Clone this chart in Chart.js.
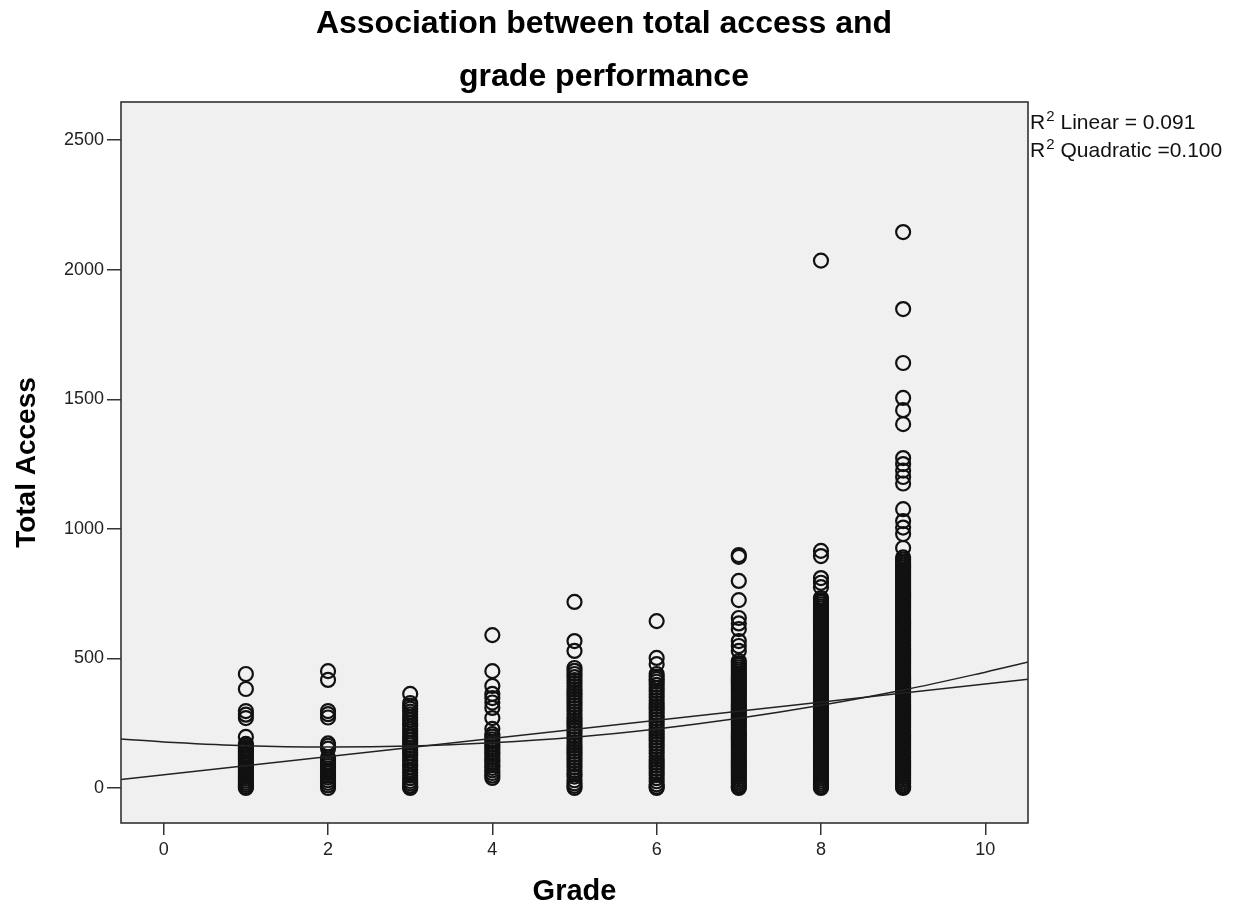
<!DOCTYPE html>
<html>
<head>
<meta charset="utf-8">
<script src="https://cdn.jsdelivr.net/npm/chart.js@4"></script>
<style>
  html, body { margin: 0; background: #fff; }
  #wrap { width: 1239px; height: 909px; }
</style>
</head>
<body>
<div id="wrap"><canvas id="chart" width="1239" height="909"></canvas></div>
<script>
const FONT = '"Liberation Sans", Arial, sans-serif';

const titleLines = ['Association between total access and', 'grade performance'];
const xTicks = [0, 2, 4, 6, 8, 10];
const yTicks = [0, 500, 1000, 1500, 2000, 2500];
const fitLabels = ['Linear = 0.091', 'Quadratic =0.100'];

// total access values read per grade column
const grades = [1, 2, 3, 4, 5, 6, 7, 8, 9];
const grade1 = [440, 382, 297, 283, 270, 197, 170, 163, 155, 148, 140, 132, 125, 117, 110, 102, 95, 88, 80, 73, 66, 58, 50, 43, 36, 28, 20, 12, 5, 0];
const grade2 = [451, 417, 297, 285, 272, 172, 163, 152, 118, 110, 101, 93, 85, 76, 68, 58, 48, 40, 30, 20, 10, 0];
const grade3 = [363, 328, 318, 306, 295, 284, 272, 262, 250, 240, 228, 218, 206, 196, 186, 175, 165, 154, 145, 135, 125, 114, 104, 92, 82, 70, 60, 48, 38, 27, 18, 9, 3, 0];
const grade4 = [590, 451, 394, 363, 347, 330, 309, 270, 228, 208, 198, 188, 178, 168, 158, 148, 138, 128, 118, 108, 98, 88, 78, 68, 58, 48, 39];
const grade5 = [718, 567, 529, 463, 452, 440, 428, 416, 404, 392, 380, 368, 356, 344, 332, 320, 308, 296, 284, 272, 260, 248, 236, 224, 212, 200, 188, 176, 164, 152, 140, 128, 116, 104, 92, 80, 68, 56, 44, 30, 18, 8, 0];
const grade6 = [644, 502, 478, 440, 430, 420, 410, 398, 386, 374, 362, 350, 338, 326, 314, 302, 290, 278, 266, 254, 242, 230, 218, 206, 194, 182, 170, 158, 146, 134, 122, 110, 98, 86, 74, 62, 50, 38, 26, 14, 5, 0];
const grade7 = [899, 892, 799, 725, 656, 635, 613, 567, 548, 529, 490, 482, 474, 466, 458, 450, 442, 434, 426, 418, 410, 402, 394, 386, 378, 370, 362, 354, 346, 338, 330, 322, 314, 306, 298, 290, 282, 274, 266, 258, 250, 242, 234, 226, 218, 210, 202, 194, 186, 178, 170, 162, 154, 146, 138, 130, 122, 114, 106, 98, 90, 82, 74, 66, 58, 50, 42, 34, 26, 18, 10, 4, 0];
const grade8 = [2035, 915, 895, 810, 792, 775, 733, 725, 717, 709, 701, 693, 685, 677, 669, 661, 653, 645, 637, 629, 621, 613, 605, 597, 589, 581, 573, 565, 557, 549, 541, 533, 525, 517, 509, 501, 493, 485, 477, 469, 461, 453, 445, 437, 429, 421, 413, 405, 397, 389, 381, 373, 365, 357, 349, 341, 333, 325, 317, 309, 301, 293, 285, 277, 269, 261, 253, 245, 237, 229, 221, 213, 205, 197, 189, 181, 173, 165, 157, 149, 141, 133, 125, 117, 109, 101, 93, 85, 77, 69, 61, 53, 45, 37, 29, 21, 13, 6, 0];
const grade9 = [2145, 1848, 1640, 1505, 1458, 1404, 1273, 1250, 1225, 1200, 1175, 1076, 1030, 1005, 980, 926, 890, 882, 874, 866, 858, 850, 842, 834, 826, 818, 810, 802, 794, 786, 778, 770, 762, 754, 746, 738, 730, 722, 714, 706, 698, 690, 682, 674, 666, 658, 650, 642, 634, 626, 618, 610, 602, 594, 586, 578, 570, 562, 554, 546, 538, 530, 522, 514, 506, 498, 490, 482, 474, 466, 458, 450, 442, 434, 426, 418, 410, 402, 394, 386, 378, 370, 362, 354, 346, 338, 330, 322, 314, 306, 298, 290, 282, 274, 266, 258, 250, 242, 234, 226, 218, 210, 202, 194, 186, 178, 170, 162, 154, 146, 138, 130, 122, 114, 106, 98, 90, 82, 74, 66, 58, 50, 42, 34, 26, 18, 10, 4, 0];
const accessByGrade = [grade1, grade2, grade3, grade4, grade5, grade6, grade7, grade8, grade9];

// fit lines
const quadX = [-0.52, 0, 1, 2, 3, 4, 5, 6, 7, 8, 9, 10, 10.52];
const quadFit = [189, 178, 163, 158, 162, 175, 196, 228, 269, 319, 378, 447, 486];
const linX = [-0.52, 10.52];
const linFit = [33, 420];

const points = [];
grades.forEach((g, i) => accessByGrade[i].forEach(v => points.push({ x: g, y: v })));

const boxPlugin = {
  id: 'box',
  beforeDraw(chart) {
    const { ctx, chartArea: a } = chart;
    ctx.save();
    ctx.fillStyle = '#f0f0f0';
    ctx.fillRect(a.left, a.top, a.right - a.left, a.bottom - a.top);
    ctx.restore();
  },
  afterDraw(chart) {
    const { ctx, chartArea: a } = chart;
    ctx.save();
    ctx.strokeStyle = '#333';
    ctx.lineWidth = 1.6;
    ctx.strokeRect(a.left, a.top, a.right - a.left, a.bottom - a.top);

    ctx.fillStyle = '#000';
    ctx.textAlign = 'center';
    ctx.textBaseline = 'alphabetic';
    ctx.font = 'bold 32px ' + FONT;
    ctx.fillText(titleLines[0], 604, 33);
    ctx.fillText(titleLines[1], 604, 86);

    ctx.textAlign = 'left';
    ctx.fillStyle = '#111';
    fitLabels.forEach((t, i) => {
      const y = 129 + i * 28;
      let x = a.right + 2;
      ctx.font = '21px ' + FONT;
      ctx.fillText('R', x, y);
      x += ctx.measureText('R').width + 1;
      ctx.font = '15px ' + FONT;
      ctx.fillText('2', x, y - 8);
      x += ctx.measureText('2').width + 6;
      ctx.font = '21px ' + FONT;
      ctx.fillText(t, x, y);
    });
    ctx.restore();
  }
};

new Chart(document.getElementById('chart'), {
  type: 'scatter',
  data: {
    datasets: [
      { type: 'line', data: linX.map((x, i) => ({ x, y: linFit[i] })), borderColor: '#222',
        borderWidth: 1.5, pointRadius: 0, fill: false },
      { type: 'line', data: quadX.map((x, i) => ({ x, y: quadFit[i] })), borderColor: '#222',
        borderWidth: 1.5, pointRadius: 0, fill: false, tension: 0.35 },
      { data: points, pointRadius: 7, borderWidth: 2.2, borderColor: '#111',
        backgroundColor: 'rgba(0,0,0,0)', pointStyle: 'circle' },
    ],
  },
  options: {
    responsive: false,
    animation: false,
    devicePixelRatio: 1,
    layout: { padding: { top: 102, right: 211, left: 0, bottom: 0 } },
    plugins: { legend: { display: false }, tooltip: { enabled: false } },
    scales: {
      x: {
        type: 'linear', min: -0.52, max: 10.52,
        afterBuildTicks: s => { s.ticks = xTicks.map(v => ({ value: v })); },
        afterFit: s => { s.height = 86; },
        border: { display: false },
        grid: { drawOnChartArea: false, tickLength: 12, color: '#333', lineWidth: 1.5 },
        ticks: { font: { size: 18, family: FONT }, color: '#222', padding: 4, maxRotation: 0,
          callback: v => String(v) },
        title: { display: true, text: 'Grade', color: '#000', padding: { top: 0, bottom: 3 },
          font: { size: 29, weight: 'bold', family: FONT, lineHeight: 1 } },
      },
      y: {
        type: 'linear', min: -135, max: 2647,
        afterBuildTicks: s => { s.ticks = yTicks.map(v => ({ value: v })); },
        afterFit: s => { s.width = 121; },
        border: { display: false },
        grid: { drawOnChartArea: false, tickLength: 14, color: '#333', lineWidth: 1.5 },
        ticks: { font: { size: 18, family: FONT }, color: '#222', padding: 3,
          callback: v => String(v) },
        title: { display: true, text: 'Total Access', color: '#000', padding: { top: 13, bottom: 0 },
          font: { size: 28, weight: 'bold', family: FONT, lineHeight: 1 } },
      },
    },
  },
  plugins: [boxPlugin],
});
</script>
</body>
</html>
